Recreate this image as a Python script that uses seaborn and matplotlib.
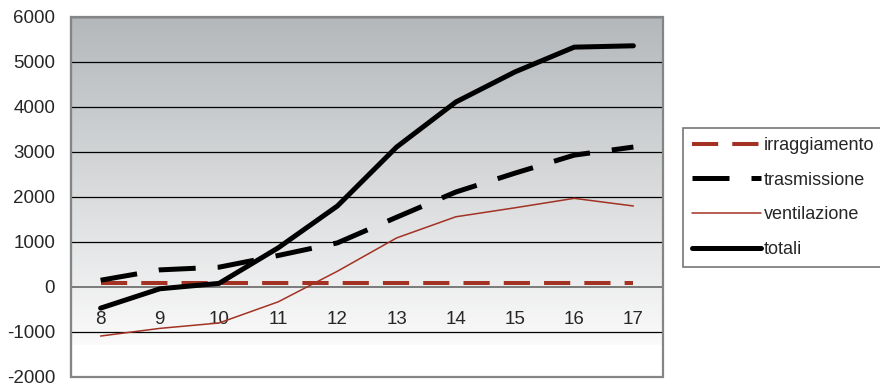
import numpy as np
import pandas as pd
import matplotlib
matplotlib.use("Agg")
import matplotlib.pyplot as plt
from matplotlib.patches import Rectangle
import seaborn as sns

# Hourly heat-load components (W)
hours = [8, 9, 10, 11, 12, 13, 14, 15, 16, 17]
irraggiamento = [80, 80, 80, 80, 80, 80, 80, 80, 80, 80]
trasmissione = [150, 380, 440, 700, 980, 1550, 2110, 2530, 2930, 3110]
ventilazione = [-1090, -920, -800, -330, 350, 1090, 1560, 1760, 1970, 1800]
totali = [-470, -40, 80, 870, 1800, 3110, 4110, 4780, 5330, 5360]
y_ticks = [-2000, -1000, 0, 1000, 2000, 3000, 4000, 5000, 6000]

df = pd.DataFrame({
    "ora": hours,
    "irraggiamento": irraggiamento,
    "trasmissione": trasmissione,
    "ventilazione": ventilazione,
    "totali": totali,
})

sns.set_style("white")
plt.rcParams["font.family"] = ["Liberation Sans", "DejaVu Sans"]
plt.rcParams["font.size"] = 13.5

RED = "#A33224"

fig = plt.figure(figsize=(8.8, 3.88), dpi=100)
ax = fig.add_axes([0.0807, 0.0284, 0.6727, 0.9278])

ax.set_xlim(7.5, 17.5)
ax.set_ylim(-2000, 6000)

# vertical grey-to-white gradient behind the plot
n = 256
frac = np.linspace(0, 1, n)  # 0 = bottom, 1 = top
top_c = np.array([180, 184, 187]) / 255
low_c = np.array([250, 250, 250]) / 255
t = np.clip((frac - 0.09) / (1 - 0.09), 0, 1)
grad = low_c[None, :] + (top_c - low_c)[None, :] * t[:, None]
grad[frac < 0.09] = 1.0
img = np.repeat(grad[:, None, :], 2, axis=1)
ax.imshow(img, extent=[0, 1, 0, 1], transform=ax.transAxes, origin="lower",
          aspect="auto", zorder=0, interpolation="bilinear")

# horizontal grid lines
for v in y_ticks:
    if v in (0, -2000):
        continue
    ax.axhline(v, color="black", lw=0.9, zorder=1)

# series
sns.lineplot(data=df, x="ora", y="irraggiamento", ax=ax, color=RED, lw=2.9,
             linestyle=(0, (6.5, 3.5)), label="irraggiamento", zorder=3)
sns.lineplot(data=df, x="ora", y="trasmissione", ax=ax, color="black", lw=3.6,
             linestyle=(0, (7.4, 4.4)), label="trasmissione", zorder=3)
sns.lineplot(data=df, x="ora", y="ventilazione", ax=ax, color=RED, lw=1.1,
             label="ventilazione", zorder=3)
sns.lineplot(data=df, x="ora", y="totali", ax=ax, color="black", lw=3.6,
             label="totali", zorder=4)

# axes styling: category axis crosses at zero
for s in ("top", "right"):
    ax.spines[s].set_visible(False)
ax.spines["bottom"].set_position(("data", 0))
ax.spines["bottom"].set_color("#7a7a7a")
ax.spines["bottom"].set_linewidth(1.4)
ax.spines["bottom"].set_zorder(2)
ax.spines["left"].set_color("#6a6a6a")
ax.spines["left"].set_linewidth(1.5)
ax.add_patch(Rectangle((0, 0), 1, 1, transform=ax.transAxes, fill=False,
                       edgecolor="#858585", lw=1.6, zorder=5, clip_on=False))

ax.set_yticks(y_ticks)
ax.set_yticklabels([str(v) for v in y_ticks])
ax.tick_params(axis="y", direction="out", length=4.5, width=1, color="#6a6a6a",
               pad=7, labelsize=13.5)

ax.set_xticks(hours)
ax.set_xticklabels([str(h) for h in hours])
ax.set_xticks(np.arange(7.5, 18, 1), minor=True)
ax.tick_params(axis="x", which="major", length=0, pad=17, labelsize=13.5)
ax.tick_params(axis="x", which="minor", direction="out", length=4.5, width=1,
               color="#6a6a6a")
ax.set_xlabel("")
ax.set_ylabel("")

leg = ax.legend(loc="upper left", bbox_to_anchor=(0.776, 0.67),
                bbox_transform=fig.transFigure, borderaxespad=0,
                frameon=True, fancybox=False, edgecolor="#555555",
                fontsize=13, handlelength=3.85, handletextpad=0.15,
                labelspacing=0.98, borderpad=0.5)
leg.get_frame().set_linewidth(1.2)
leg.get_frame().set_facecolor("white")

fig.savefig("out.png", dpi=100)
